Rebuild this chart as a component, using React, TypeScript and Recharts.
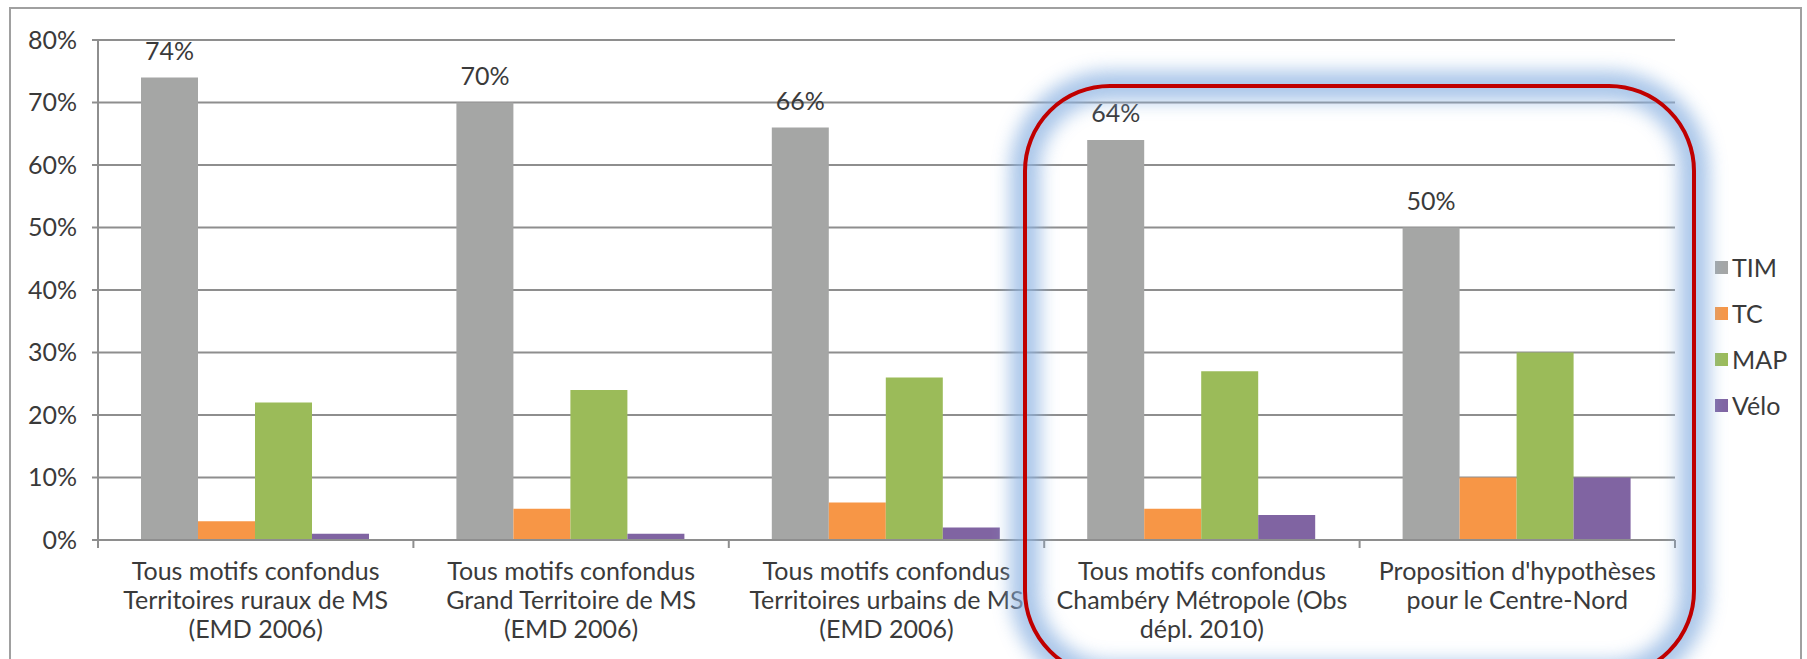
import React from "react";
import { BarChart, Bar, XAxis, YAxis, CartesianGrid, Legend, LabelList } from "recharts";

const categories = [
  "Tous motifs confondus\nTerritoires ruraux de MS\n(EMD 2006)",
  "Tous motifs confondus\nGrand Territoire de MS\n(EMD 2006)",
  "Tous motifs confondus\nTerritoires urbains de MS\n(EMD 2006)",
  "Tous motifs confondus\nChambéry Métropole (Obs\ndépl. 2010)",
  "Proposition d'hypothèses\npour le Centre-Nord",
];
const seriesNames = ["TIM", "TC", "MAP", "Vélo"];
const tim = [74, 70, 66, 64, 50];
const tc = [3, 5, 6, 5, 10];
const map = [22, 24, 26, 27, 30];
const velo = [1, 1, 2, 4, 10];
const yTicks = [0, 10, 20, 30, 40, 50, 60, 70, 80];

const data = categories.map((name, i) => ({
  name,
  TIM: tim[i],
  TC: tc[i],
  MAP: map[i],
  "Vélo": velo[i],
}));

const W = 1807;
const H = 659;
const FONT = "Lato, 'Open Sans', sans-serif";
const TEXT = "#3a3a3a";
const GRID = "#8e8e8e";
const PLOT_LEFT = 98;
const PLOT_RIGHT = 1675;
const BAND = (PLOT_RIGHT - PLOT_LEFT) / categories.length;

function CategoryTick(props: any) {
  const { x, y, payload, index } = props;
  const lines = String(payload.value).split("\n");
  const left = x - BAND / 2;
  const right = x + BAND / 2;
  return (
    <g>
      <line x1={left} x2={left} y1={y} y2={y + 8} stroke={GRID} strokeWidth={2} />
      {index === categories.length - 1 && (
        <line x1={right} x2={right} y1={y} y2={y + 8} stroke={GRID} strokeWidth={2} />
      )}
      {lines.map((l, i) => (
        <text
          key={i}
          x={x}
          y={y + 40 + i * 29}
          textAnchor="middle"
          fontSize={25}
          fontFamily={FONT}
          fill={TEXT}
        >
          {l}
        </text>
      ))}
    </g>
  );
}

function LegendBox(props: any) {
  const items = [...(props.payload || [])].sort(
    (a: any, b: any) => seriesNames.indexOf(a.value) - seriesNames.indexOf(b.value)
  );
  return (
    <div style={{ fontFamily: FONT, fontSize: 25, color: TEXT }}>
      {items.map((it: any) => (
        <div key={it.value} style={{ display: "flex", alignItems: "center", height: 46 }}>
          <span
            style={{
              display: "inline-block",
              width: 13,
              height: 13,
              background: it.color,
              marginRight: 4,
            }}
          />
          <span>{it.value}</span>
        </div>
      ))}
    </div>
  );
}

export default function App() {
  return (
    <div style={{ position: "absolute", left: 0, top: 0, width: W, height: H, overflow: "hidden", background: "#fff" }}>
      <BarChart
        width={W}
        height={H}
        data={data}
        margin={{ top: 40, right: W - PLOT_RIGHT, left: 0, bottom: 0 }}
        barCategoryGap={43}
        barGap={0}
      >
        <CartesianGrid vertical={false} stroke={GRID} strokeWidth={2} />
        <XAxis
          dataKey="name"
          height={119}
          interval={0}
          tickLine={false}
          tickSize={0}
          tickMargin={0}
          axisLine={{ stroke: GRID, strokeWidth: 2 }}
          tick={<CategoryTick />}
        />
        <YAxis
          width={PLOT_LEFT}
          domain={[0, 80]}
          ticks={yTicks}
          interval={0}
          tickFormatter={(v) => `${v}%`}
          tickSize={6}
          tickMargin={15}
          tickLine={{ stroke: GRID, strokeWidth: 2 }}
          axisLine={{ stroke: GRID, strokeWidth: 2 }}
          tick={{ fontSize: 25, fontFamily: FONT, fill: TEXT }}
        />
        <Legend
          layout="horizontal"
          verticalAlign="middle"
          align="center"
          content={<LegendBox />}
          wrapperStyle={{ left: 1715, top: 244, width: 90, height: 190 }}
        />
        <Bar dataKey="TIM" fill="#A5A6A5" isAnimationActive={false}>
          <LabelList
            dataKey="TIM"
            position="top"
            offset={18}
            formatter={(v: any) => `${v}%`}
            style={{ fontSize: 25, fontFamily: FONT, fill: TEXT }}
          />
        </Bar>
        <Bar dataKey="TC" fill="#F79646" isAnimationActive={false} />
        <Bar dataKey="MAP" fill="#9BBB59" isAnimationActive={false} />
        <Bar dataKey="Vélo" fill="#8064A2" isAnimationActive={false} />
      </BarChart>
      <svg
        width={W}
        height={H}
        style={{ position: "absolute", left: 0, top: 0, pointerEvents: "none" }}
      >
        <defs>
          <filter id="glow" x="-20%" y="-20%" width="140%" height="140%">
            <feGaussianBlur stdDeviation="9" />
          </filter>
        </defs>
        <rect x={10} y={8} width={1791} height={700} fill="none" stroke="#a0a0a0" strokeWidth={2} />
        <rect
          x={1025}
          y={86}
          width={669}
          height={590}
          rx={85}
          ry={85}
          fill="none"
          stroke="#8DB3E2"
          strokeWidth={30}
          opacity={0.75}
          filter="url(#glow)"
        />
        <rect
          x={1025}
          y={86}
          width={669}
          height={590}
          rx={85}
          ry={85}
          fill="none"
          stroke="#C00000"
          strokeWidth={4}
        />
      </svg>
    </div>
  );
}
